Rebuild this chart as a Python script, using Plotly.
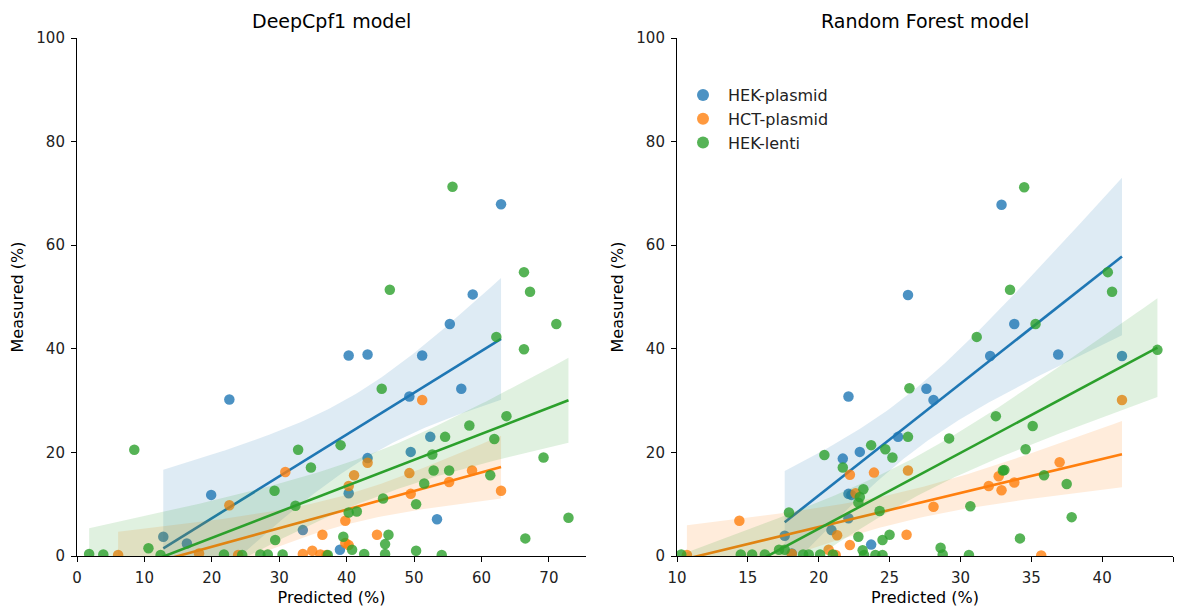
import numpy as np
import plotly.graph_objects as go

# ---------------- data ----------------
series_names = ["HEK-plasmid", "HCT-plasmid", "HEK-lenti"]
series_colors = ["31,119,180", "255,127,14", "44,160,44"]
panel_titles = ["DeepCpf1 model", "Random Forest model"]

# DeepCpf1 model (left panel)
deep_hek_plasmid_x = [62.9, 58.7, 55.3, 40.3, 43.1, 51.2, 49.3, 57.0, 22.6, 52.4, 49.5, 43.1, 40.3, 19.9, 53.4, 33.5, 12.8, 16.3, 39.0]
deep_hek_plasmid_y = [67.9, 50.5, 44.8, 38.7, 38.9, 38.7, 30.8, 32.3, 30.2, 23.0, 20.1, 18.9, 12.1, 11.8, 7.1, 5.0, 3.7, 2.4, 1.2]

deep_hct_plasmid_x = [51.2, 43.1, 30.9, 58.6, 49.3, 41.1, 55.2, 40.3, 62.9, 49.5, 22.6, 39.8, 36.4, 44.5, 39.8, 40.3, 34.9, 18.1, 6.1, 23.9, 33.5, 36.1, 37.0]
deep_hct_plasmid_y = [30.1, 18.0, 16.2, 16.5, 16.0, 15.6, 14.3, 13.5, 12.6, 12.0, 9.8, 6.8, 4.1, 4.1, 2.5, 2.1, 1.0, 0.5, 0.2, 0.2, 0.4, 0.3, 0.2]

deep_hek_lenti_x = [55.7, 66.3, 46.4, 67.2, 71.1, 62.2, 66.3, 45.2, 63.7, 58.2, 54.6, 61.9, 8.5, 32.8, 39.1, 52.7, 69.2, 34.7, 52.9, 55.2, 61.3, 51.5, 29.3, 45.4, 50.3, 32.4, 40.3, 41.5, 72.9, 46.2, 66.5, 39.5, 29.4, 45.7, 10.6, 40.8, 50.3, 1.8, 3.9, 12.4, 21.8, 24.5, 27.2, 28.3, 30.5, 37.2, 42.6, 45.7, 54.1]
deep_hek_lenti_y = [71.3, 54.8, 51.4, 51.0, 44.8, 42.3, 39.9, 32.3, 27.0, 25.2, 23.0, 22.6, 20.5, 20.5, 21.4, 19.6, 19.0, 17.1, 16.5, 16.5, 15.6, 14.0, 12.6, 11.1, 10.0, 9.7, 8.4, 8.6, 7.4, 4.1, 3.4, 3.7, 3.1, 2.3, 1.5, 1.2, 1.0, 0.4, 0.3, 0.2, 0.3, 0.2, 0.3, 0.3, 0.3, 0.2, 0.4, 0.4, 0.2]

# Random Forest model (right panel)
rf_hek_plasmid_x = [32.9, 26.3, 33.8, 32.1, 36.9, 41.4, 27.6, 28.1, 22.1, 25.6, 22.9, 21.7, 22.1, 22.3, 22.1, 20.9, 17.6, 23.7, 18.1]
rf_hek_plasmid_y = [67.8, 50.4, 44.8, 38.6, 38.9, 38.6, 32.3, 30.1, 30.8, 23.0, 20.1, 18.8, 12.0, 11.8, 7.3, 5.0, 3.9, 2.2, 0.5]

rf_hct_plasmid_x = [41.4, 37.0, 26.3, 23.9, 22.2, 32.7, 33.8, 32.0, 32.9, 22.6, 28.1, 14.4, 26.2, 21.3, 22.2, 20.7, 10.7, 18.1, 21.2, 35.7]
rf_hct_plasmid_y = [30.1, 18.1, 16.5, 16.1, 15.7, 15.4, 14.2, 13.5, 12.7, 12.1, 9.5, 6.8, 4.1, 4.0, 2.1, 1.2, 0.2, 0.4, 0.2, 0.1]

rf_hek_lenti_x = [34.5, 40.4, 33.5, 40.7, 35.3, 31.15, 43.9, 26.4, 32.5, 35.1, 29.2, 26.3, 20.4, 23.7, 24.7, 25.2, 21.7, 34.6, 33.0, 33.1, 35.9, 37.5, 23.15, 22.9, 22.8, 30.7, 24.3, 17.9, 37.85, 25.0, 24.5, 22.8, 34.2, 28.6, 23.1, 17.2, 17.6, 10.3, 14.5, 15.3, 16.2, 18.9, 19.3, 20.1, 21.0, 23.2, 24.0, 24.5, 28.75, 30.6]
rf_hek_lenti_y = [71.2, 54.8, 51.4, 51.0, 44.8, 42.3, 39.8, 32.4, 27.0, 25.1, 22.7, 23.0, 19.5, 21.4, 20.6, 19.0, 17.1, 20.6, 16.5, 16.6, 15.6, 13.9, 12.9, 11.4, 10.3, 9.6, 8.7, 8.4, 7.5, 4.1, 3.1, 3.7, 3.4, 1.6, 1.1, 1.2, 1.2, 0.3, 0.3, 0.3, 0.3, 0.3, 0.3, 0.3, 0.3, 0.2, 0.2, 0.2, 0.3, 0.2]

left_xticks = [0, 10, 20, 30, 40, 50, 60, 70]
right_xticks = [10, 15, 20, 25, 30, 35, 40, 45]
yticks = [0, 20, 40, 60, 80, 100]

panels = [
    [(deep_hek_plasmid_x, deep_hek_plasmid_y), (deep_hct_plasmid_x, deep_hct_plasmid_y), (deep_hek_lenti_x, deep_hek_lenti_y)],
    [(rf_hek_plasmid_x, rf_hek_plasmid_y), (rf_hct_plasmid_x, rf_hct_plasmid_y), (rf_hek_lenti_x, rf_hek_lenti_y)],
]


def regression_band(x, y, n_grid=100):
    x = np.asarray(x, float)
    y = np.asarray(y, float)
    b1, b0 = np.polyfit(x, y, 1)
    grid = np.linspace(x.min(), x.max(), n_grid)
    fit = b0 + b1 * grid
    resid = y - (b0 + b1 * x)
    n = len(x)
    s = np.sqrt(np.sum(resid ** 2) / (n - 2))
    xm = x.mean()
    se = s * np.sqrt(1.0 / n + (grid - xm) ** 2 / np.sum((x - xm) ** 2))
    t = 2.02
    return grid, fit, fit - t * se, fit + t * se


fig = go.Figure()
FONT = "DejaVu Sans"

for p, panel in enumerate(panels):
    xa = "x" if p == 0 else "x2"
    ya = "y" if p == 0 else "y2"
    for i, (xs, ys) in enumerate(panel):
        rgb = series_colors[i]
        fig.add_trace(go.Scatter(
            x=xs, y=ys, mode="markers", xaxis=xa, yaxis=ya,
            name=series_names[i], showlegend=(p == 1),
            marker=dict(size=10.5, color=f"rgba({rgb},0.8)", line=dict(width=0)),
            hoverinfo="x+y",
        ))
        grid, fit, lo, hi = regression_band(xs, ys)
        fig.add_trace(go.Scatter(
            x=np.concatenate([grid, grid[::-1]]),
            y=np.concatenate([hi, lo[::-1]]),
            mode="lines", fill="toself", fillcolor=f"rgba({rgb},0.15)",
            line=dict(width=0), xaxis=xa, yaxis=ya, showlegend=False, hoverinfo="skip",
        ))
        fig.add_trace(go.Scatter(
            x=grid, y=fit, mode="lines", line=dict(color=f"rgb({rgb})", width=2.6),
            xaxis=xa, yaxis=ya, showlegend=False, hoverinfo="skip",
        ))

W, H = 1179, 607
top_px, bot_px = 38, 556
ydom = [1 - bot_px / H, 1 - top_px / H]

axis_common = dict(
    automargin=False,
    showgrid=False, zeroline=False, showline=True, linecolor="black", linewidth=1.1,
    ticks="outside", ticklen=5, tickwidth=1.1, tickcolor="black", ticklabelstandoff=3,
    tickfont=dict(family=FONT, size=15, color="#222"),
    title_font=dict(family=FONT, size=16, color="black"),
)

fig.update_layout(
    width=W, height=H,
    margin=dict(l=0, r=0, t=0, b=0),
    paper_bgcolor="white", plot_bgcolor="white",
    font=dict(family=FONT, color="black"),
    xaxis=dict(domain=[77 / W, 586 / W], range=[0, 75.5], tickvals=left_xticks,
               anchor="y", title=dict(text="Predicted (%)", standoff=6), **axis_common),
    yaxis=dict(domain=ydom, range=[0, 100], tickvals=yticks, anchor="x",
               title=dict(text="Measured (%)", standoff=8), **axis_common),
    xaxis2=dict(domain=[677 / W, 1173 / W], range=[10, 45], tickvals=right_xticks,
                anchor="y2", title=dict(text="Predicted (%)", standoff=6), **axis_common),
    yaxis2=dict(domain=ydom, range=[0, 100], tickvals=yticks, anchor="x2",
                title=dict(text="Measured (%)", standoff=8), **axis_common),
    legend=dict(x=678 / W, y=1 - 78 / H, xanchor="left", yanchor="top",
                bgcolor="rgba(0,0,0,0)", borderwidth=0,
                font=dict(family=FONT, size=16, color="#222"), itemsizing="constant",
                itemwidth=40, tracegroupgap=2),
    showlegend=True,
)

for p, title in enumerate(panel_titles):
    x0, x1 = (77, 586) if p == 0 else (677, 1173)
    fig.add_annotation(text=title, x=(x0 + x1) / 2 / W, y=1 - 21 / H, xref="paper", yref="paper",
                       showarrow=False, xanchor="center", yanchor="middle",
                       font=dict(family=FONT, size=19, color="black"))

fig.write_html("out.html", config={"displayModeBar": False},
               post_script="document.body.style.margin='0';document.body.style.overflow='hidden';")
